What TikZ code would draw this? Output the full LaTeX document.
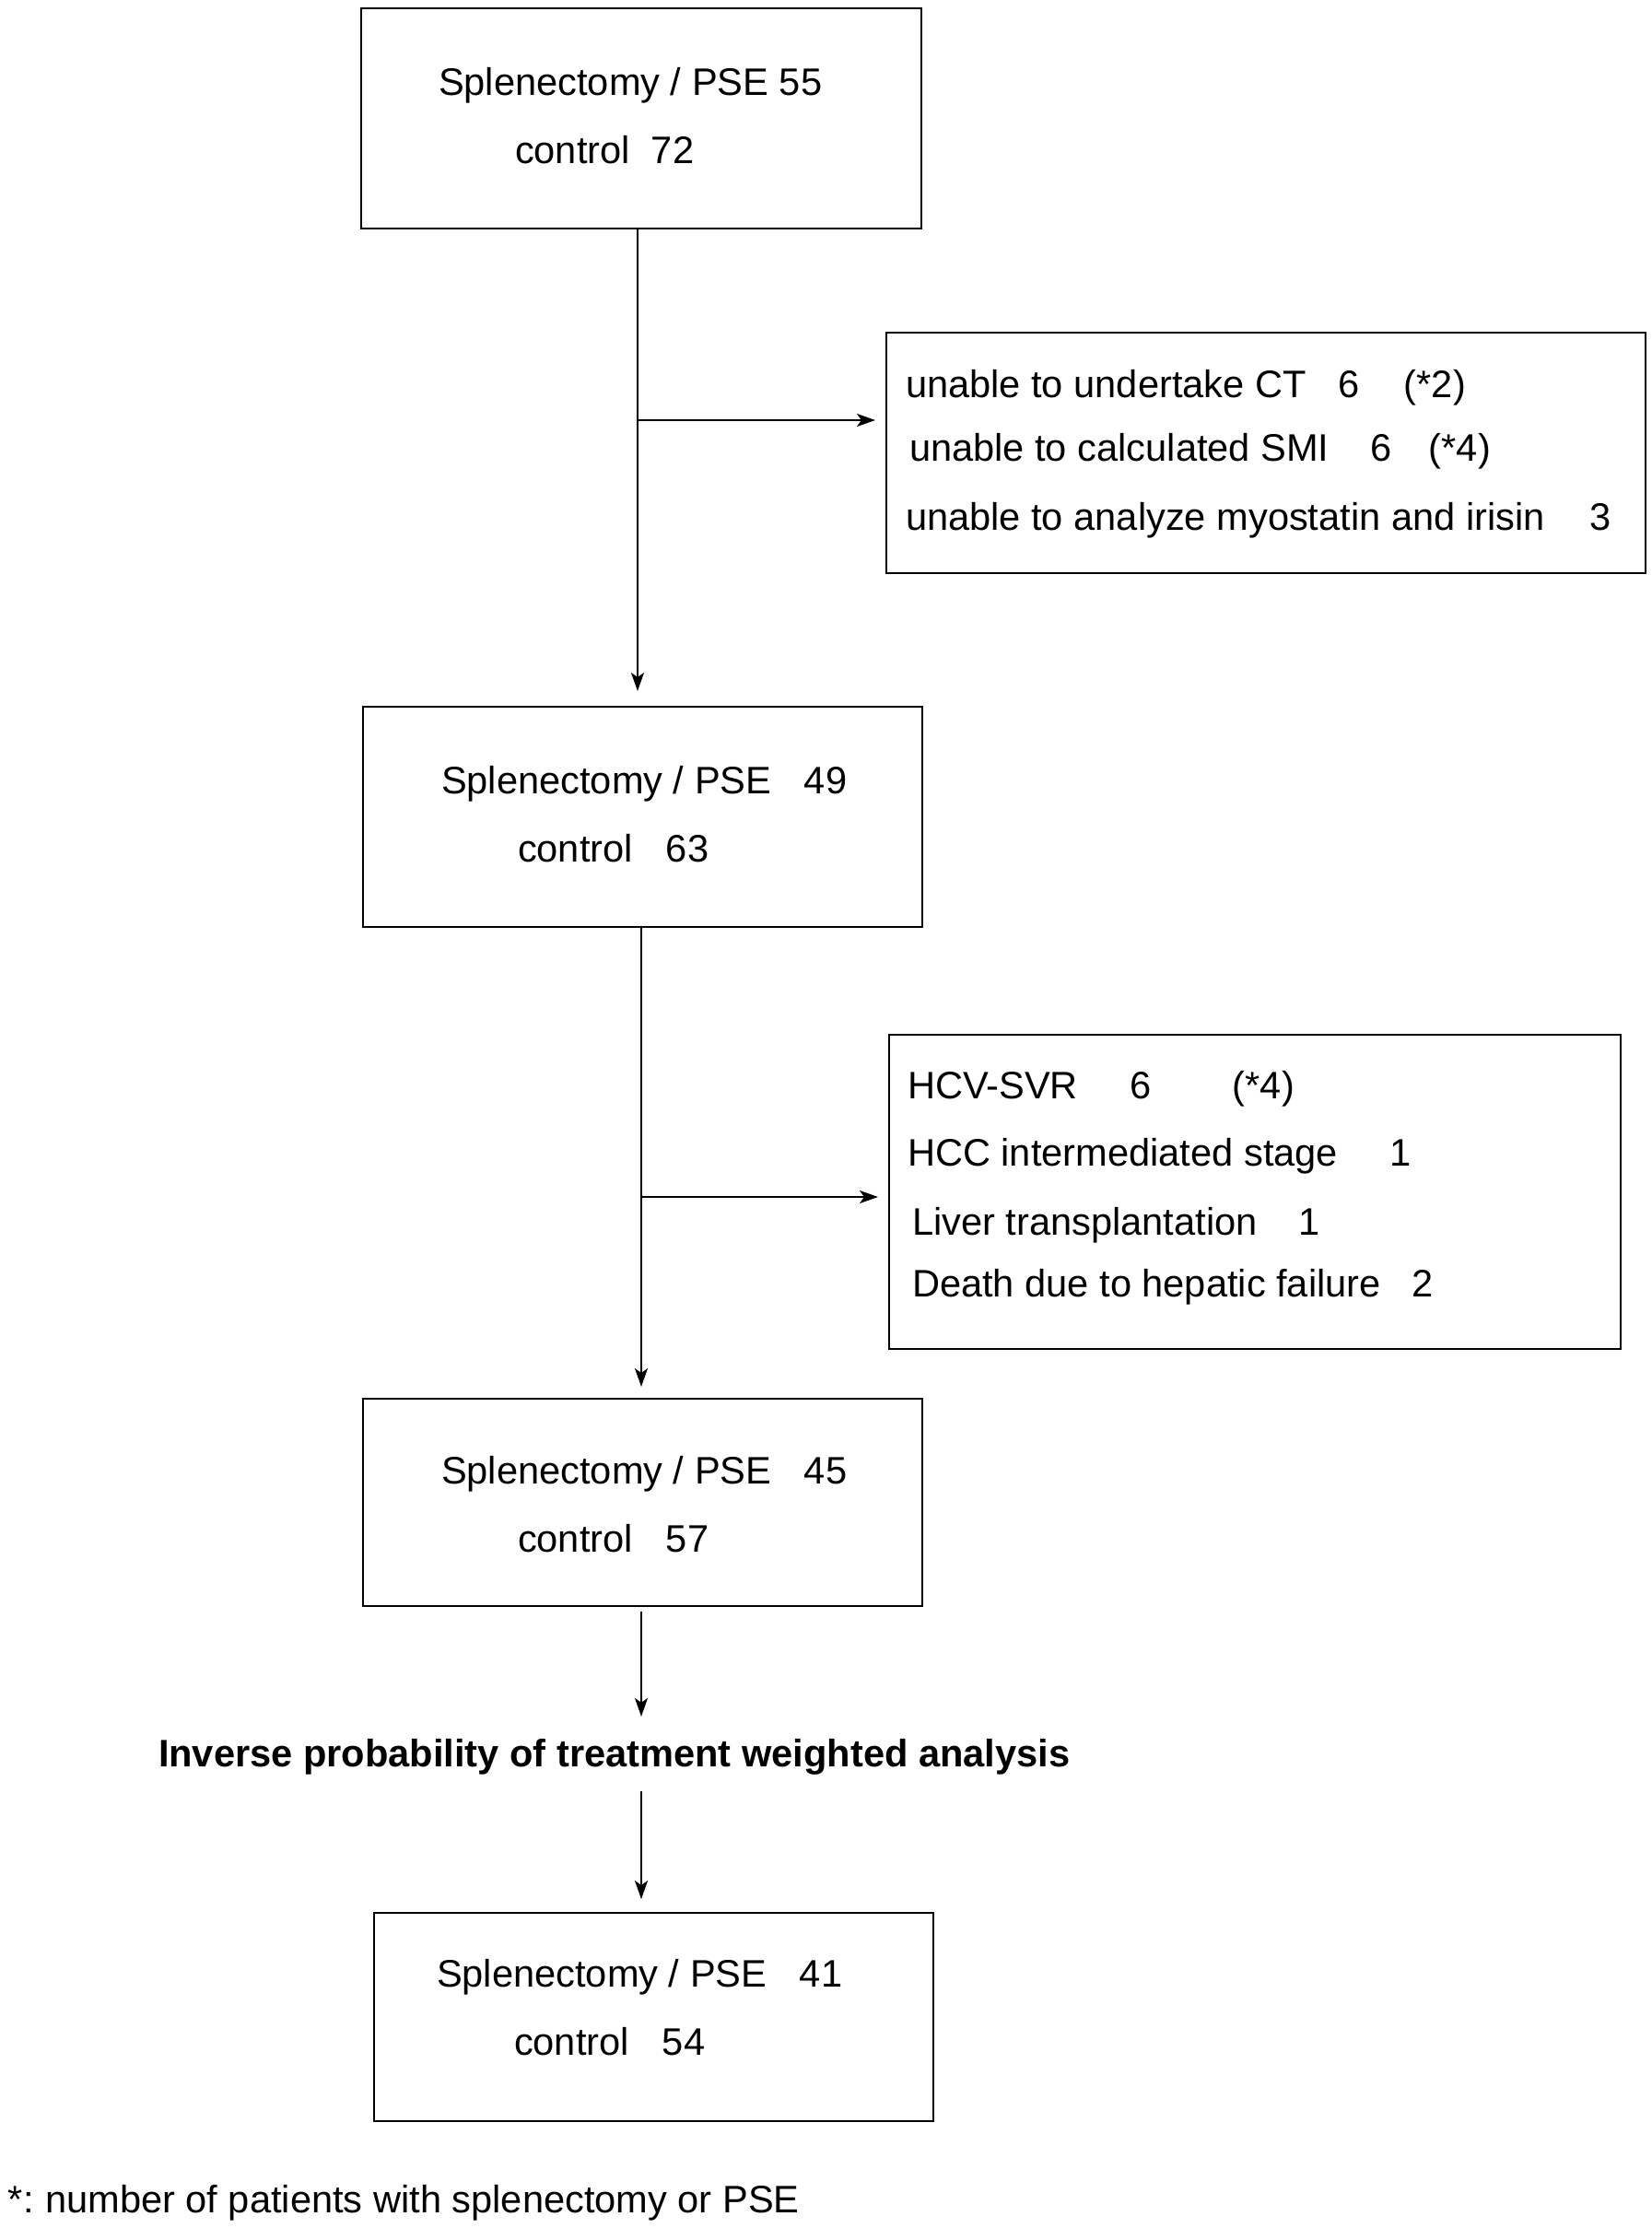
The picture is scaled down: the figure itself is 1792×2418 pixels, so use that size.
\documentclass[tikz,border=0pt]{standalone}
\usepackage{fontspec}
\setmainfont{Liberation Sans}
\usetikzlibrary{arrows.meta}
\newcommand\seg[2]{\makebox[#1pt][l]{#2}}
\begin{document}
\begin{tikzpicture}[x=1pt,y=-1pt,
  font=\fontsize{41.6}{50}\selectfont,
  box/.style={draw=black,line width=2.2pt,inner sep=0pt,outer sep=0pt},
  txt/.style={anchor=base west,inner sep=0pt,outer sep=0pt},
  arr/.style={draw=black,line width=2pt,-{Stealth[length=20pt,width=14pt,inset=5pt]}}]
\fill[white] (0,0) rectangle (1792,2418);
\useasboundingbox (0,0) rectangle (1792,2418);
% boxes
\node[box,minimum width=608pt,minimum height=239pt] (b1) at (696,128.5) {};
\node[box,minimum width=824pt,minimum height=261pt] (e1) at (1374,491.5) {};
\node[box,minimum width=607pt,minimum height=239pt] (b3) at (697.5,886.5) {};
\node[box,minimum width=794pt,minimum height=341pt] (e2) at (1362,1293.5) {};
\node[box,minimum width=607pt,minimum height=225pt] (b5) at (697.5,1630.5) {};
\node[box,minimum width=607pt,minimum height=226pt] (b6) at (709.5,2189) {};
% texts
\node[txt] (t1a) at (476,103) {Splenectomy / PSE 55};
\node[txt] (t1b) at (559,177) {\seg{148}{control}72};
\node[txt] (x1a) at (983,431) {\seg{470}{unable to undertake CT}\seg{71}{6}(*2)};
\node[txt] (x1b) at (987,500) {\seg{501}{unable to calculated SMI}\seg{63}{6}(*4)};
\node[txt] (x1c) at (983,575) {\seg{743}{unable to analyze myostatin and irisin}3};
\node[txt] (t3a) at (479,861) {\seg{394}{Splenectomy / PSE}49};
\node[txt] (t3b) at (562,935) {\seg{161}{control}63};
\node[txt] (x2a) at (985,1192) {\seg{242}{HCV-SVR}\seg{111}{6}(*4)};
\node[txt] (x2b) at (985,1265) {\seg{524}{HCC intermediated stage}1};
\node[txt] (x2c) at (990,1340) {\seg{420}{Liver transplantation}1};
\node[txt] (x2d) at (990,1407) {\seg{543}{Death due to hepatic failure}2};
\node[txt] (t5a) at (479,1610) {\seg{394}{Splenectomy / PSE}45};
\node[txt] (t5b) at (562,1684) {\seg{161}{control}57};
\node[txt,font=\fontsize{41.6}{50}\selectfont\bfseries] (ipt) at (172,1917) {Inverse probability of treatment weighted analysis};
\node[txt] (t6a) at (474,2156) {\seg{394}{Splenectomy / PSE}41};
\node[txt] (t6b) at (558,2230) {\seg{161}{control}54};
\node[txt] (foot) at (9,2401) {*:\hspace{-3pt} number of patients with splenectomy or PSE};
% connectors
\coordinate (j1) at (692,456);
\coordinate (j2) at (696,1299);
\draw[arr,shorten >=17pt] (b1.south -| j1) -- (b3.north -| j1);
\draw[arr,shorten >=12pt] (j1) -- (e1.west |- j1);
\draw[arr,shorten >=13pt] (b3.south -| j2) -- (b5.north -| j2);
\draw[arr,shorten >=12pt] (j2) -- (e2.west |- j2);
\draw[arr,shorten <=6pt,shorten >=24pt] (b5.south -| j2) -- (ipt.north -| j2);
\draw[arr,shorten <=18pt,shorten >=15pt] (ipt.south -| j2) -- (b6.north -| j2);
\end{tikzpicture}
\end{document}
